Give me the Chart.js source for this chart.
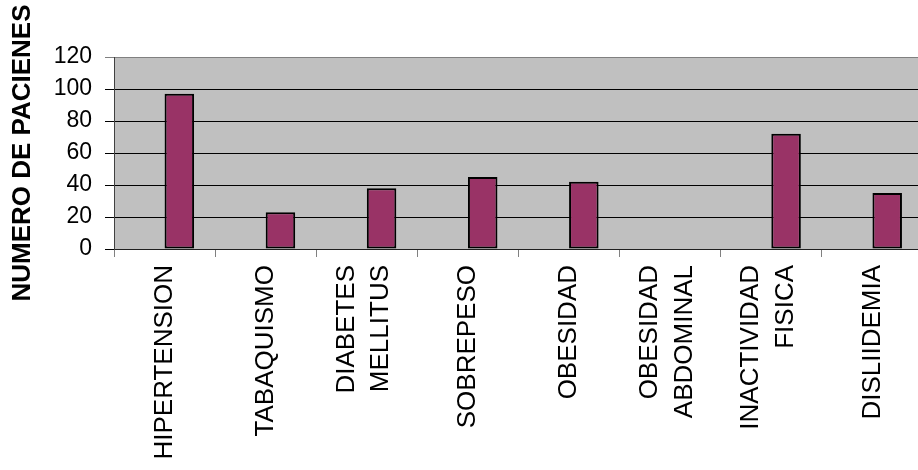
<!DOCTYPE html>
<html>
<head>
<meta charset="utf-8">
<script src="https://cdn.jsdelivr.net/npm/chart.js@4/dist/chart.umd.min.js"></script>
<style>
  html, body { margin: 0; padding: 0; background: #fff; overflow: hidden; }
  canvas { display: block; }
</style>
</head>
<body>
<canvas id="grafico" width="924" height="470"></canvas>
<script>
// categorias del eje X (las de dos palabras van en dos lineas)
const factores = [
  'HIPERTENSION',
  'TABAQUISMO',
  ['DIABETES', 'MELLITUS'],
  'SOBREPESO',
  'OBESIDAD',
  ['OBESIDAD', 'ABDOMINAL'],
  ['INACTIVIDAD', 'FISICA'],
  'DISLIIDEMIA'
];

// numero de pacientes por factor de riesgo
const pacientes = [97, 23, 38, 45, 42, 0, 72, 35];

// serie vacia: en el original la barra ocupa el segundo lugar del grupo
const serieVacia = [null, null, null, null, null, null, null, null];

const ticksY = [0, 20, 40, 60, 80, 100, 120];

// fondo gris del area de trazado
const fondoArea = {
  id: 'fondoArea',
  beforeDraw(chart) {
    const { ctx, chartArea: a } = chart;
    ctx.save();
    ctx.fillStyle = '#C0C0C0';
    ctx.fillRect(a.left, a.top, a.right - a.left, a.bottom - a.top);
    ctx.restore();
  }
};

// centra las etiquetas de dos lineas sobre su categoria
const centrarEtiquetas = {
  id: 'centrarEtiquetas',
  beforeDraw(chart) {
    const items = chart.scales.x.getLabelItems();
    items.forEach(item => {
      if (Array.isArray(item.label) && !item._movida) {
        item.options.translation[0] -= 20;
        item._movida = true;
      }
    });
  }
};

new Chart(document.getElementById('grafico'), {
  type: 'bar',
  data: {
    labels: factores,
    datasets: [
      {
        label: '',
        data: serieVacia,
        backgroundColor: '#993366'
      },
      {
        label: 'Pacientes',
        data: pacientes,
        backgroundColor: '#993366',
        borderColor: '#000000',
        borderWidth: 2,
        borderSkipped: false
      }
    ]
  },
  options: {
    responsive: false,
    animation: false,
    categoryPercentage: 0.584,
    barPercentage: 1,
    layout: { padding: { top: 57, left: 0, right: 1, bottom: 0 } },
    plugins: {
      legend: { display: false },
      tooltip: { enabled: false }
    },
    scales: {
      x: {
        grid: {
          offset: true,
          drawOnChartArea: false,
          drawTicks: true,
          tickLength: 8,
          color: '#808080'
        },
        border: { display: true, color: '#202020', width: 1 },
        ticks: {
          autoSkip: false,
          minRotation: 90,
          maxRotation: 90,
          padding: 8,
          color: '#000',
          font: { family: "'Liberation Sans', Arial, sans-serif", size: 26, lineHeight: 1.32 }
        },
        afterFit(scale) { scale.height = 221; }
      },
      y: {
        min: 0,
        max: 120,
        afterBuildTicks(scale) { scale.ticks = ticksY.map(v => ({ value: v })); },
        grid: {
          color: ctx => (ctx.tick && ctx.tick.value === 120 ? '#808080' : '#000000'),
          lineWidth: 1,
          drawTicks: true,
          tickLength: 9
        },
        border: { display: true, color: '#404040', width: 1 },
        ticks: {
          padding: 13,
          color: '#000',
          font: { family: "'Liberation Sans', Arial, sans-serif", size: 23 }
        },
        title: {
          display: true,
          text: 'NUMERO DE PACIENES',
          color: '#000',
          padding: { top: 7, bottom: 0 },
          font: { family: "'Liberation Sans', Arial, sans-serif", size: 26, weight: 'bold' }
        },
        afterFit(scale) { scale.width = 114; }
      }
    }
  },
  plugins: [fondoArea, centrarEtiquetas]
});
</script>
</body>
</html>
